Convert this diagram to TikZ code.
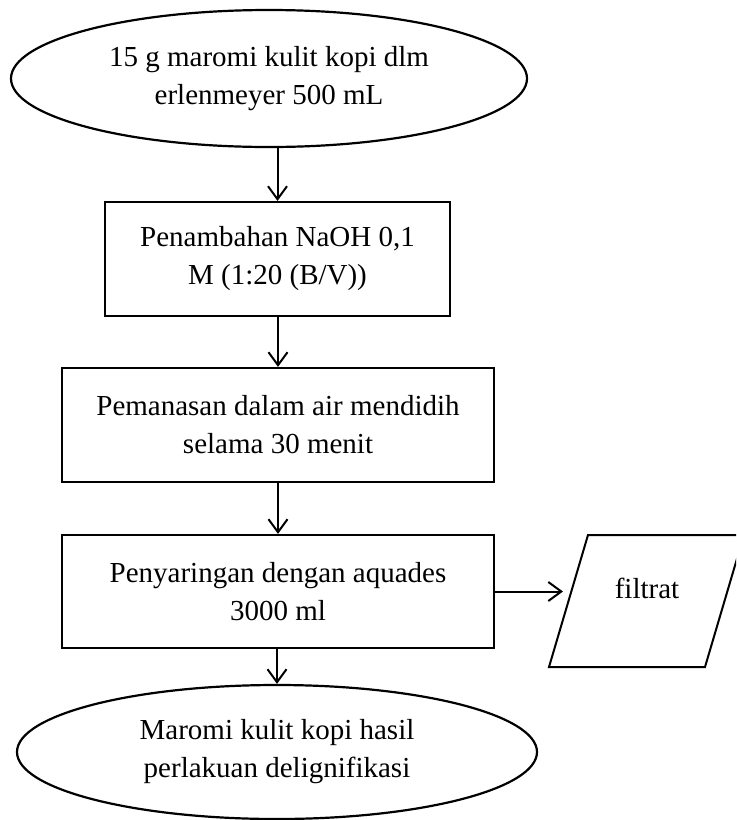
\documentclass[tikz,border=0pt]{standalone}
\usepackage{fontspec}
\setmainfont{Liberation Serif}
\usepackage{tikz}
\usetikzlibrary{shapes.geometric,arrows.meta}

\begin{document}
\begin{tikzpicture}[x=0.5pt,y=-0.5pt,
  flowText/.style={align=center,font=\fontsize{14.5}{19}\selectfont},
  flowOval/.style={flowText,draw,ellipse,line width=1.1pt,inner sep=0pt},
  flowBox/.style={flowText,draw,rectangle,line width=1.1pt,inner sep=0pt},
  flowArrow/.style={-{Straight Barb[length=6.5pt,width=9.5pt]},line width=1pt}]
  \clip (0,0) rectangle (736,820);
  \fill[white] (0,0) rectangle (736,820);
  % start and end
  \node[flowOval,minimum width=258pt,minimum height=68.5pt] (start) at (269,78.5)
    {15 g maromi kulit kopi dlm\\erlenmeyer 500 mL};
  \node[flowOval,minimum width=260pt,minimum height=67pt] (hasil) at (277,752)
    {Maromi kulit kopi hasil\\perlakuan delignifikasi};
  % process steps
  \node[flowBox,minimum width=172.5pt,minimum height=57pt] (naoh) at (277.5,259)
    {Penambahan NaOH 0,1\\M (1:20 (B/V))};
  \node[flowBox,minimum width=216pt,minimum height=57pt] (panas) at (278,425)
    {Pemanasan dalam air mendidih\\selama 30 menit};
  \node[flowBox,minimum width=216pt,minimum height=56.5pt] (saring) at (278,591.5)
    {Penyaringan dengan aquades\\3000 ml};
  % output
  \draw[line width=1pt] (588,535) -- (744,535) -- (705,667) -- (549,667) -- cycle;
  \node[flowText] (filtrat) at (647,588) {filtrat};
  \coordinate (filtratIn) at (563,591.5);
  % arrows
  \draw[flowArrow] (naoh.north |- start.south) -- (naoh.north);
  \draw[flowArrow] (naoh.south -| panas.north) -- (panas.north);
  \draw[flowArrow] (panas.south) -- (saring.north);
  \draw[flowArrow] (saring.south -| hasil.north) -- (hasil.north);
  \draw[flowArrow] (saring.east) -- (filtratIn);
\end{tikzpicture}
\end{document}
